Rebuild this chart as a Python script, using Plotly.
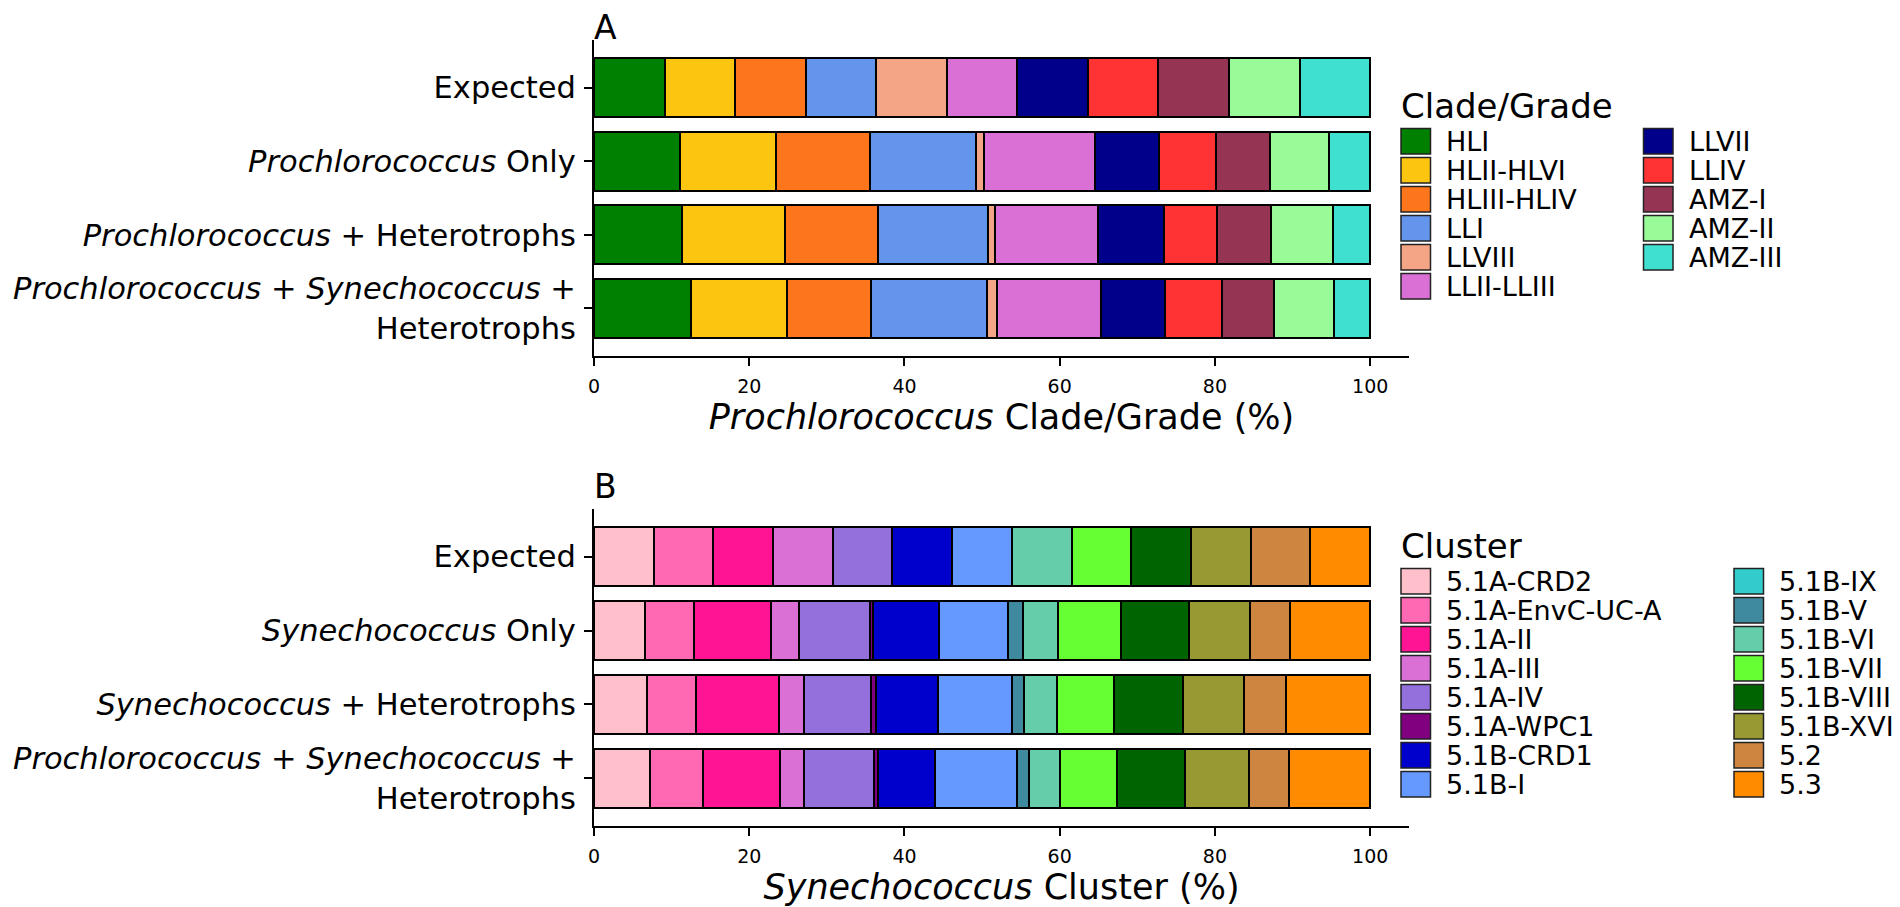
import plotly.graph_objects as go

# Reference canvas is 1900x907; the page body adds an 8px margin,
# so the figure is 8px smaller and all layout positions are shifted.
W0, H0, OFF = 1900, 907, 8
W, H = W0 - OFF, H0 - OFF

# ---------------- Panel A data ----------------
rows_a = [
    "Expected",
    "<i>Prochlorococcus</i> Only",
    "<i>Prochlorococcus</i> + Heterotrophs",
    "<i>Prochlorococcus</i> + <i>Synechococcus</i> +<br>Heterotrophs",
]
clades = ["HLI", "HLII-HLVI", "HLIII-HLIV", "LLI", "LLVIII", "LLII-LLIII",
          "LLVII", "LLIV", "AMZ-I", "AMZ-II", "AMZ-III"]
clade_colors = ["#008000", "#FCC50F", "#FE761B", "#6495ED", "#F4A585", "#DA70D6",
                "#00008B", "#FF3333", "#953553", "#98FB98", "#40E0D0"]
a_expected = [9.09, 9.09, 9.09, 9.09, 9.09, 9.09, 9.09, 9.09, 9.09, 9.09, 9.09]
a_pro_only = [11.05, 12.4, 12.1, 13.7, 1.0, 14.3, 8.2, 7.4, 6.9, 7.6, 5.3]
a_pro_het = [11.3, 13.3, 12.0, 14.1, 1.0, 13.2, 8.5, 6.8, 7.0, 8.0, 4.8]
a_pro_syn_het = [12.5, 12.4, 10.8, 14.9, 1.3, 13.4, 8.2, 7.4, 6.7, 7.7, 4.7]

# ---------------- Panel B data ----------------
rows_b = [
    "Expected",
    "<i>Synechococcus</i> Only",
    "<i>Synechococcus</i> + Heterotrophs",
    "<i>Prochlorococcus</i> + <i>Synechococcus</i> +<br>Heterotrophs",
]
clusters = ["5.1A-CRD2", "5.1A-EnvC-UC-A", "5.1A-II", "5.1A-III", "5.1A-IV",
            "5.1A-WPC1", "5.1B-CRD1", "5.1B-I", "5.1B-IX", "5.1B-V", "5.1B-VI",
            "5.1B-VII", "5.1B-VIII", "5.1B-XVI", "5.2", "5.3"]
cluster_colors = ["#FFC0CB", "#FF69B4", "#FF1493", "#DA70D6", "#9370DB",
                  "#800080", "#0000CD", "#6699FF", "#33CCCC", "#3F8A9F", "#66CDAA",
                  "#66FF33", "#006400", "#999933", "#CD853F", "#FF8C00"]
b_expected = [7.69, 7.69, 7.69, 7.69, 7.69, 0.0, 7.69, 7.69, 0.0, 0.0, 7.69,
              7.69, 7.69, 7.69, 7.69, 7.69]
b_syn_only = [6.6, 6.3, 9.9, 3.6, 9.1, 0.4, 8.6, 8.9, 0.0, 1.9, 4.5,
              8.1, 8.7, 7.9, 5.2, 10.3]
b_syn_het = [6.8, 6.4, 10.6, 3.2, 8.7, 0.6, 8.0, 9.5, 0.0, 1.55, 4.35,
             7.3, 8.9, 7.8, 5.4, 10.9]
b_pro_syn_het = [7.2, 6.9, 9.9, 3.0, 9.1, 0.5, 7.3, 10.6, 0.0, 1.5, 4.1,
                 7.3, 8.7, 8.3, 5.1, 10.5]

ticks_x = [0, 20, 40, 60, 80, 100]


def xp(px):
    return (px - OFF) / W


def yp(py):
    return 1 - (py - OFF) / H


fig = go.Figure()

series_a = [a_expected, a_pro_only, a_pro_het, a_pro_syn_het]
for i, (name, col) in enumerate(zip(clades, clade_colors)):
    fig.add_trace(go.Bar(
        y=rows_a, x=[s[i] for s in series_a], name=name, orientation="h",
        marker=dict(color=col, line=dict(color="black", width=2)),
        xaxis="x", yaxis="y", showlegend=False,
    ))

series_b = [b_expected, b_syn_only, b_syn_het, b_pro_syn_het]
for i, (name, col) in enumerate(zip(clusters, cluster_colors)):
    fig.add_trace(go.Bar(
        y=rows_b, x=[s[i] for s in series_b], name=name, orientation="h",
        marker=dict(color=col, line=dict(color="black", width=2)),
        xaxis="x2", yaxis="y2", showlegend=False,
    ))

FONT = "DejaVu Sans"
x_dom = [xp(594), xp(1409)]


def xax(title, anchor):
    return dict(
        domain=x_dom, range=[0, 105], anchor=anchor, automargin=False,
        showline=True, linecolor="black", linewidth=2,
        ticks="outside", ticklen=8, tickwidth=2, tickcolor="black",
        ticklabelstandoff=4,
        tickvals=ticks_x, tickfont=dict(family=FONT, size=19, color="black"),
        showgrid=False, zeroline=False, fixedrange=True,
        title=dict(text=title, font=dict(family=FONT, size=35, color="black"),
                   standoff=9),
    )


def yax(dom, anchor, cats):
    return dict(
        domain=dom, anchor=anchor, type="category", categoryorder="array",
        categoryarray=cats, range=[3.645, -0.645], automargin=False,
        showline=True, linecolor="black", linewidth=2,
        ticks="outside", ticklen=8, tickwidth=2, tickcolor="black",
        ticklabelstandoff=2,
        tickfont=dict(family=FONT, size=30.5, color="black"),
        showgrid=False, zeroline=False, fixedrange=True,
    )


annotations = [
    dict(text="A", x=xp(592), y=yp(28), xref="paper", yref="paper",
         xanchor="left", yanchor="middle", showarrow=False,
         font=dict(family=FONT, size=33, color="black")),
    dict(text="B", x=xp(592), y=yp(486), xref="paper", yref="paper",
         xanchor="left", yanchor="middle", showarrow=False,
         font=dict(family=FONT, size=33, color="black")),
]
shapes = []


def add_legend(title, names, colors, title_y, first_y, col_x, rows_per_col):
    annotations.append(dict(
        text=title, x=xp(1399), y=yp(title_y), xref="paper", yref="paper",
        xanchor="left", yanchor="middle", showarrow=False,
        font=dict(family=FONT, size=34, color="black")))
    for k, (nm, cl) in enumerate(zip(names, colors)):
        c = k // rows_per_col
        r = k % rows_per_col
        sx = col_x[c]
        cy = first_y + 29 * r
        shapes.append(dict(
            type="rect", xref="paper", yref="paper",
            x0=xp(sx), x1=xp(sx + 29.5),
            y0=yp(cy - 12.8), y1=yp(cy + 12.8),
            fillcolor=cl, line=dict(color="#222222", width=1.5)))
        annotations.append(dict(
            text=nm, x=xp(sx + 43), y=yp(cy), xref="paper", yref="paper",
            xanchor="left", yanchor="middle", showarrow=False,
            font=dict(family=FONT, size=27, color="black")))


add_legend("Clade/Grade", clades, clade_colors, 106, 141.2, [1401, 1643.5], 6)
add_legend("Cluster", clusters, cluster_colors, 546, 581.2, [1401, 1734], 8)

fig.update_layout(
    width=W, height=H, autosize=False,
    margin=dict(l=0, r=0, t=0, b=0, autoexpand=False),
    paper_bgcolor="white", plot_bgcolor="white",
    barmode="stack", bargap=0.2,
    font=dict(family=FONT, color="black"),
    xaxis=xax("<i>Prochlorococcus</i> Clade/Grade (%)", "y"),
    yaxis=yax([yp(356), yp(40)], "x", rows_a),
    xaxis2=xax("<i>Synechococcus</i> Cluster (%)", "y2"),
    yaxis2=yax([yp(826), yp(509)], "x2", rows_b),
    annotations=annotations, shapes=shapes,
)

fig.write_html("out.html")
